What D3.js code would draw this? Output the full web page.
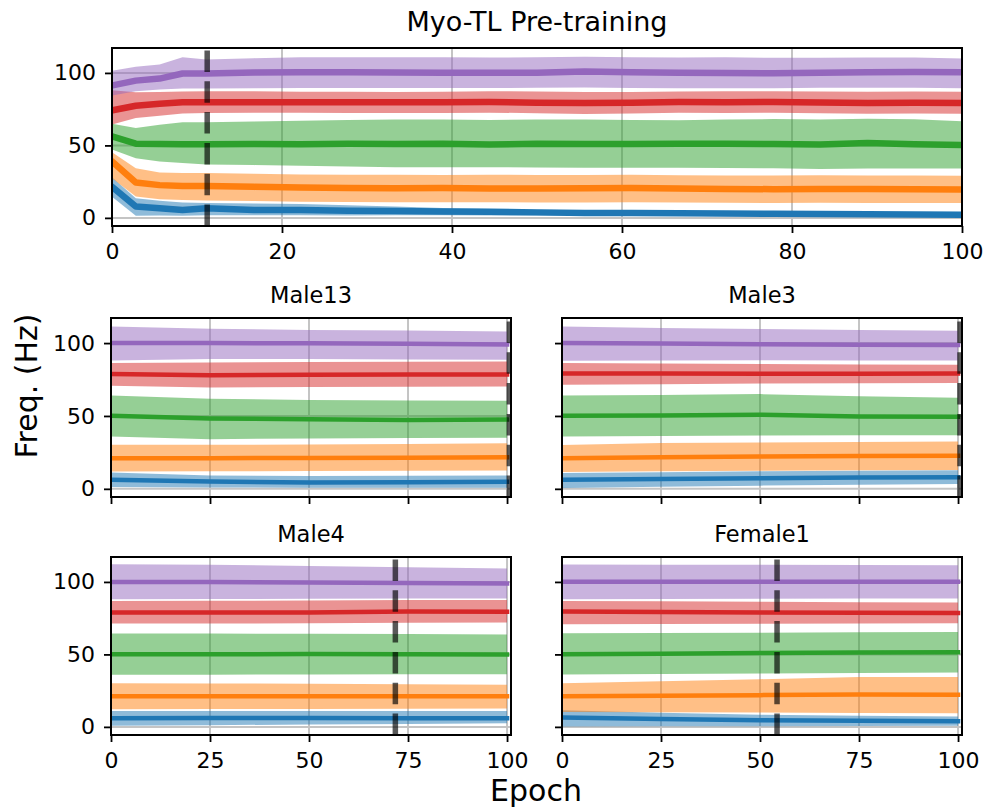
<!DOCTYPE html>
<html lang="en">
<head>
  <meta charset="UTF-8">
  <title>Myo-TL Pre-training</title>
  <script src="https://d3js.org/d3.v7.min.js" charset="utf-8"></script>
  <style>
    body { margin: 0; background: #fff; }
    text { font-family: "DejaVu Sans", sans-serif; fill: #000; }
  </style>
</head>
<body>
<div id="chart"></div>
<script>
    // Band order: blue, orange, green, red, purple
    var colors = ["#1f77b4", "#ff7f0e", "#2ca02c", "#d62728", "#9467bd"];

    // Pre-training panel
    var preEpochs = [0, 2.8, 5.6, 8.3, 11.1, 16.7, 22.2, 27.8, 33.3, 38.9, 44.4, 50, 55.6, 61.1, 66.7, 72.2, 77.8, 83.3, 88.9, 94.4, 100];
    var preMean = [
        [21.4, 7.8, 6.7, 5.5, 6.7, 5.5, 5.5, 5.0, 4.8, 4.4, 4.2, 3.8, 3.4, 3.3, 3.2, 3.0, 2.8, 2.6, 2.5, 2.4, 2.2],
        [38.9, 24.4, 22.6, 22.0, 22.0, 21.4, 21.0, 20.6, 20.5, 20.6, 20.3, 20.3, 20.4, 20.6, 20.2, 20.0, 19.8, 20.0, 20.0, 19.8, 19.6],
        [56.2, 51.2, 51.0, 50.8, 50.8, 51.0, 50.8, 51.2, 51.0, 51.2, 50.6, 51.2, 51.0, 51.0, 51.2, 51.2, 51.0, 50.6, 51.6, 50.8, 50.2],
        [74.2, 77.4, 78.8, 79.7, 79.7, 79.8, 79.7, 79.8, 79.7, 79.8, 80.0, 79.5, 79.2, 79.4, 79.9, 79.8, 80.0, 79.6, 79.2, 79.5, 79.2],
        [91.3, 94.7, 96.1, 99.6, 99.6, 100.3, 100.5, 100.4, 100.3, 100.2, 100.1, 100.2, 101.0, 100.4, 100.1, 100.0, 99.8, 100.2, 100.4, 100.6, 100.5]
    ];
    var preLo = [
        [14.5, 1.4, 1.6, 1.4, 1.8, 1.8, 1.8, 1.6, 1.8, 1.8, 1.6, 1.6, 1.4, 1.4, 1.4, 1.2, 1.2, 1.0, 1.0, 1.0, 0.8],
        [27.4, 14.7, 12.9, 12.4, 12.0, 11.6, 11.2, 11.0, 10.8, 10.8, 10.8, 10.6, 10.6, 10.8, 10.6, 10.4, 10.3, 10.4, 10.3, 10.3, 10.2],
        [47.2, 41.2, 38.9, 37.8, 36.8, 36.4, 36.0, 35.5, 35.0, 35.0, 35.0, 34.8, 34.6, 34.6, 34.6, 34.4, 34.2, 33.8, 34.0, 34.0, 34.0],
        [64.5, 68.9, 70.5, 72.0, 72.4, 72.6, 72.6, 72.4, 72.4, 72.4, 72.6, 72.2, 71.6, 72.0, 72.5, 72.4, 72.6, 72.2, 71.8, 72.0, 71.8],
        [84.5, 87.3, 88.5, 89.2, 89.2, 89.5, 89.6, 89.6, 89.6, 89.6, 89.6, 89.7, 90.0, 89.6, 89.5, 89.5, 89.5, 89.8, 89.8, 89.8, 89.5]
    ];
    var preHi = [
        [28.0, 13.6, 11.8, 10.6, 10.2, 10.0, 9.6, 8.8, 7.8, 6.8, 6.2, 5.6, 5.2, 5.0, 4.8, 4.6, 4.4, 4.2, 4.0, 3.9, 3.8],
        [45.2, 34.3, 31.3, 30.9, 30.9, 30.4, 30.0, 29.8, 29.7, 29.6, 29.8, 29.6, 29.6, 29.8, 29.4, 29.3, 29.3, 29.4, 29.2, 29.2, 29.0],
        [65.0, 62.0, 64.3, 66.0, 66.0, 66.5, 67.0, 67.5, 67.8, 67.8, 67.6, 67.8, 67.8, 67.6, 67.4, 67.8, 68.2, 67.8, 68.4, 68.0, 66.6],
        [88.0, 86.7, 86.8, 87.2, 87.3, 87.3, 87.0, 87.0, 86.9, 87.0, 87.4, 87.2, 86.8, 86.8, 87.2, 87.4, 87.4, 87.2, 87.0, 87.2, 87.0],
        [101.5, 104.2, 105.8, 110.9, 109.2, 110.2, 110.8, 110.8, 110.9, 110.9, 110.6, 110.8, 111.2, 110.8, 110.6, 110.8, 110.4, 110.5, 110.6, 110.7, 110.0]
    ];
    var preBest = 11.2;

    // Per-subject fine-tuning panels
    var subjEpochs = [0, 25, 50, 75, 100];

    var male13Mean = [[6.2, 5.0, 4.4, 4.6, 4.8], [21, 21, 21.2, 21.4, 21.6], [50.1, 48.3, 47.8, 47.2, 47.5], [78.7, 78, 78.2, 78.4, 78.5], [100, 100, 99.8, 99.6, 99]];
    var male13Lo = [[1.2, 1, 0.8, 0.8, 0.8], [11.9, 12, 12.2, 12.4, 12.6], [35.9, 34.1, 34.5, 34.8, 35], [70.7, 69.6, 69.8, 70, 70.2], [88, 89, 89, 88.8, 88.5]];
    var male13Hi = [[11.2, 9.2, 8.8, 9, 9.2], [30.2, 30.2, 30.4, 30.8, 31.2], [64, 61.8, 61, 60.6, 60.4], [86.3, 86.6, 87, 87.2, 87.3], [111.4, 109.8, 109, 108.6, 108]];
    var male13Best = 100.6;

    var male3Mean = [[6.2, 6.8, 7.3, 7.7, 8], [21, 21.6, 22.2, 22.5, 22.7], [50.1, 50.3, 50.8, 49.6, 49.4], [79.1, 79.1, 79, 79, 79.1], [100, 99.7, 99.2, 98.9, 98.6]];
    var male3Lo = [[0.5, 1.5, 2.2, 2.8, 3.4], [11.5, 12, 12.4, 12.8, 13], [35.9, 36.2, 36.6, 36.7, 36.8], [71.4, 71.8, 72.2, 72.4, 72.6], [87.9, 88, 88.2, 88, 88]];
    var male3Hi = [[10.8, 11.4, 12, 12.4, 12.7], [30, 31.4, 31.8, 32.2, 32.5], [64, 64.4, 65, 63.5, 62.5], [86.3, 86, 85.6, 85.3, 85.1], [111.4, 110.4, 109.6, 109, 108.5]];
    var male3Best = 100.5;

    var male4Mean = [[6.0, 6.1, 6.1, 6.0, 6.0], [21.2, 21.2, 21.2, 21.2, 21.2], [50.1, 50.1, 50.3, 50.1, 49.9], [78.9, 78.9, 78.9, 79.6, 79.4], [100, 99.9, 99.6, 99.2, 98.9]];
    var male4Lo = [[0.7, 1.2, 1.6, 2.0, 2.5], [12.2, 12.3, 12.4, 12.5, 12.6], [35.9, 36, 36.2, 36.3, 36.3], [71.3, 71.3, 71.5, 71.8, 72], [88.1, 88.2, 88.4, 88.5, 88.6]];
    var male4Hi = [[11, 11, 11, 11, 11], [30.1, 30, 29.8, 29.4, 29], [64.4, 64.4, 64.2, 64, 63.7], [86.9, 87, 87.2, 87.5, 87.6], [112.2, 111.8, 111, 110.2, 109.2]];
    var male4Best = 71.8;

    var female1Mean = [[6.5, 5.4, 4.6, 4.2, 3.9], [21.2, 21.5, 21.9, 22.4, 22.2], [50.1, 50.5, 51, 51.3, 51.5], [79.6, 79.2, 78.9, 78.7, 78.5], [100.2, 100.2, 100.2, 100.2, 100.2]];
    var female1Lo = [[0.3, 0.4, 0.5, 0.6, 0.7], [10.3, 10.1, 9.9, 9.6, 9.4], [36.1, 36.5, 36.9, 37.2, 37.5], [70.8, 71, 71.2, 71.4, 71.5], [88.1, 88.2, 88.4, 88.5, 88.6]];
    var female1Hi = [[11.5, 9.8, 8.4, 7.6, 7.1], [30.1, 31.5, 32.9, 34.5, 34.5], [64.6, 64.8, 65, 65.3, 65.5], [86.9, 86.6, 86.3, 86, 85.8], [112, 111.9, 111.8, 111.6, 111.5]];
    var female1Best = 54.3;

    var yTicks = [0, 50, 100];
    var preXTicks = [0, 20, 40, 60, 80, 100];
    var subjXTicks = [0, 25, 50, 75, 100];

    // Figure size
    var W = 984, H = 809;
    var svg = d3.select("#chart")
        .append("svg")
        .attr("width", W)
        .attr("height", H);

    // Panel layout (pixel boxes)
    var panels = [
        { id: "pre", title: "", left: 112, top: 48, w: 850, h: 178, xMax: 100, epochs: preEpochs,
          mean: preMean, lo: preLo, hi: preHi, best: preBest, xTicks: preXTicks, xLabels: true, yLabels: true, lw: 6.5 },
        { id: "m13", title: "Male13", left: 111, top: 318, w: 400, h: 179, xMax: 101, epochs: subjEpochs,
          mean: male13Mean, lo: male13Lo, hi: male13Hi, best: male13Best, xTicks: subjXTicks, xLabels: false, yLabels: true, lw: 4.5 },
        { id: "m3", title: "Male3", left: 562, top: 318, w: 400, h: 179, xMax: 101, epochs: subjEpochs,
          mean: male3Mean, lo: male3Lo, hi: male3Hi, best: male3Best, xTicks: subjXTicks, xLabels: false, yLabels: false, lw: 4.5 },
        { id: "m4", title: "Male4", left: 111, top: 557, w: 400, h: 178, xMax: 101, epochs: subjEpochs,
          mean: male4Mean, lo: male4Lo, hi: male4Hi, best: male4Best, xTicks: subjXTicks, xLabels: true, yLabels: true, lw: 4.5 },
        { id: "f1", title: "Female1", left: 562, top: 557, w: 400, h: 178, xMax: 101, epochs: subjEpochs,
          mean: female1Mean, lo: female1Lo, hi: female1Hi, best: female1Best, xTicks: subjXTicks, xLabels: true, yLabels: false, lw: 4.5 }
    ];

    function drawPanel(p) {
        var g = svg.append("g")
            .attr("transform", "translate(" + p.left + "," + p.top + ")");

        var x = d3.scaleLinear().domain([0, p.xMax]).range([0, p.w]);
        var y = d3.scaleLinear().domain([-5.6, 117.2]).range([p.h, 0]);

        g.append("clipPath")
            .attr("id", "clip-" + p.id)
            .append("rect")
            .attr("width", p.w)
            .attr("height", p.h);

        var plot = g.append("g").attr("clip-path", "url(#clip-" + p.id + ")");

        // Grid
        plot.selectAll(".vgrid")
            .data(p.xTicks)
            .enter().append("line")
            .attr("x1", function(d) { return x(d); })
            .attr("x2", function(d) { return x(d); })
            .attr("y1", 0).attr("y2", p.h)
            .attr("stroke", "#c4c4c4").attr("stroke-width", 2);
        plot.selectAll(".hgrid")
            .data(yTicks)
            .enter().append("line")
            .attr("y1", function(d) { return y(d); })
            .attr("y2", function(d) { return y(d); })
            .attr("x1", 0).attr("x2", p.w)
            .attr("stroke", "#c4c4c4").attr("stroke-width", 2);

        // Bands and mean lines
        for (var s = 0; s < colors.length; s++) {
            var rows = p.epochs.map(function(e, i) {
                return { e: e, m: p.mean[s][i], lo: p.lo[s][i], hi: p.hi[s][i] };
            });
            var area = d3.area()
                .x(function(d) { return x(d.e); })
                .y0(function(d) { return y(d.lo); })
                .y1(function(d) { return y(d.hi); });
            var line = d3.line()
                .x(function(d) { return x(d.e); })
                .y(function(d) { return y(d.m); });

            plot.append("path")
                .datum(rows)
                .attr("d", area)
                .attr("fill", colors[s])
                .attr("fill-opacity", 0.5);
            plot.append("path")
                .datum(rows)
                .attr("d", line)
                .attr("fill", "none")
                .attr("stroke", colors[s])
                .attr("stroke-width", p.lw)
                .attr("stroke-linecap", "square")
                .attr("stroke-linejoin", "round");
        }

        // Best epoch marker (drawn bottom to top like axvline)
        plot.append("line")
            .attr("x1", x(p.best)).attr("x2", x(p.best))
            .attr("y1", p.h).attr("y2", 0)
            .attr("stroke", "#000")
            .attr("stroke-opacity", 0.65)
            .attr("stroke-width", 5.5)
            .attr("stroke-dasharray", "21.5,9.3");

        // Axes
        var xAxis = g.append("g")
            .attr("transform", "translate(0," + p.h + ")")
            .call(d3.axisBottom(x).tickValues(p.xTicks).tickSize(7).tickPadding(10)
                .tickFormat(p.xLabels ? d3.format("d") : function() { return ""; }));
        var yAxis = g.append("g")
            .call(d3.axisLeft(y).tickValues(yTicks).tickSize(7).tickPadding(9)
                .tickFormat(p.yLabels ? d3.format("d") : function() { return ""; }));

        [xAxis, yAxis].forEach(function(a) {
            a.select(".domain").remove();
            a.selectAll("line").attr("stroke", "#000").attr("stroke-width", 1.8);
            a.selectAll("text")
                .style("font-family", "DejaVu Sans")
                .style("font-size", "22px")
                .attr("fill", "#000");
        });

        // Spines
        g.append("rect")
            .attr("width", p.w)
            .attr("height", p.h)
            .attr("fill", "none")
            .attr("stroke", "#000")
            .attr("stroke-width", 2);

        if (p.title) {
            g.append("text")
                .attr("x", p.w / 2)
                .attr("y", -15)
                .attr("text-anchor", "middle")
                .style("font-size", "22.5px")
                .text(p.title);
        }
    }

    panels.forEach(drawPanel);

    // Figure texts
    svg.append("text")
        .attr("x", 537).attr("y", 31)
        .attr("text-anchor", "middle")
        .style("font-size", "27px")
        .text("Myo-TL Pre-training");

    svg.append("text")
        .attr("x", 536).attr("y", 801)
        .attr("text-anchor", "middle")
        .style("font-size", "30px")
        .text("Epoch");

    svg.append("text")
        .attr("transform", "translate(37,386) rotate(-90)")
        .attr("text-anchor", "middle")
        .style("font-size", "30px")
        .text("Freq. (Hz)");
</script>
</body>
</html>
